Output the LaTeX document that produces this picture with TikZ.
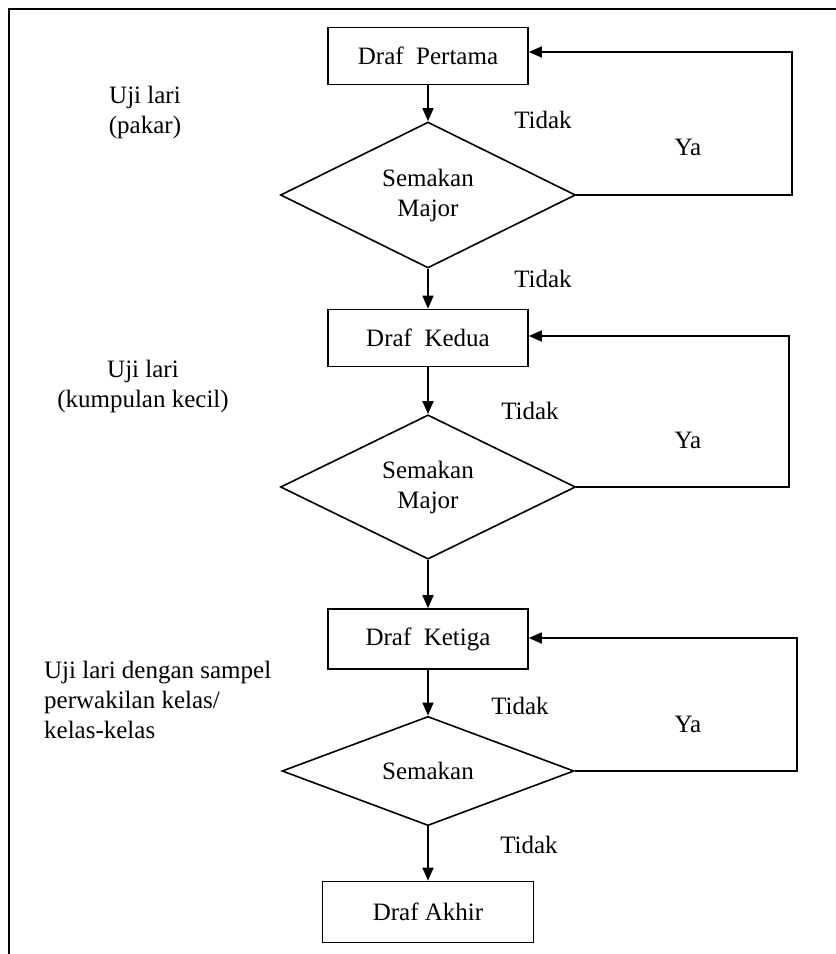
\documentclass[tikz,border=0pt]{standalone}
\usepackage{fontspec}
\setmainfont{Liberation Serif}
\usetikzlibrary{shapes.geometric,arrows.meta}

\tikzset{
  box/.style={draw, line width=1.6pt, minimum width=200pt, minimum height=57pt, inner sep=0pt},
  decision/.style={draw, diamond, line width=1.6pt, inner sep=0pt, align=center},
  arr/.style={line width=1.6pt, -{Triangle[length=13pt,width=11pt]}},
  lbl/.style={inner sep=0pt, anchor=center},
  note/.style={inner sep=0pt, align=center}
}

\begin{document}
\begin{tikzpicture}[x=1pt, y=-1pt, font=\fontsize{25}{30}\selectfont]
  \useasboundingbox (0,0) rectangle (836,954);

  % frame
  \draw[line width=1.8pt] (9,954) -- (9,9) -- (836,9);

  % steps
  \node[box] (b1) at (428,56) {Draf\ \ Pertama};
  \node[decision, minimum width=295pt, minimum height=146pt] (d1) at (428,195) {Semakan\\Major};
  \node[box] (b2) at (428,338) {Draf\ \ Kedua};
  \node[decision, minimum width=295pt, minimum height=144pt] (d2) at (428,487) {Semakan\\Major};
  \node[box, minimum height=60pt] (b3) at (428,639) {Draf\ \ Ketiga};
  \node[decision, minimum width=292pt, minimum height=109pt] (d3) at (428,771) {Semakan};
  \node[box, minimum width=211pt, minimum height=61pt] (b4) at (428,912) {Draf Akhir};

  % down arrows
  \draw[arr] (b1) -- (d1);
  \draw[arr] (d1) -- (b2);
  \draw[arr] (b2) -- (d2);
  \draw[arr] (d2) -- (b3);
  \draw[arr] (b3) -- (d3);
  \draw[arr] (d3) -- (b4);

  % loops back
  \coordinate (c1) at (792,52);
  \coordinate (c2) at (789,336);
  \coordinate (c3) at (797,638);
  \draw[arr] (d1.east) -| (c1) -- (b1.east |- c1);
  \draw[arr] (d2.east) -| (c2) -- (b2.east |- c2);
  \draw[arr] (d3.east) -| (c3) -- (b3.east |- c3);

  % labels
  \node[lbl] (t1) at (543,120) {Tidak};
  \node[lbl] (t2) at (543,279) {Tidak};
  \node[lbl] (t3) at (530,411) {Tidak};
  \node[lbl] (t4) at (520,706) {Tidak};
  \node[lbl] (t5) at (529,845) {Tidak};
  \node[lbl] (y1) at (688,147) {Ya};
  \node[lbl] (y2) at (688,440) {Ya};
  \node[lbl] (y3) at (688,724) {Ya};

  \node[note] (u1) at (145,112) {Uji lari\\(pakar)};
  \node[note] (u2) at (143,386) {Uji lari\\(kumpulan kecil)};
  \node[note, align=left, anchor=north west] (u3) at (44,661) {Uji lari dengan sampel\\perwakilan kelas/\\kelas-kelas};
\end{tikzpicture}
\end{document}
